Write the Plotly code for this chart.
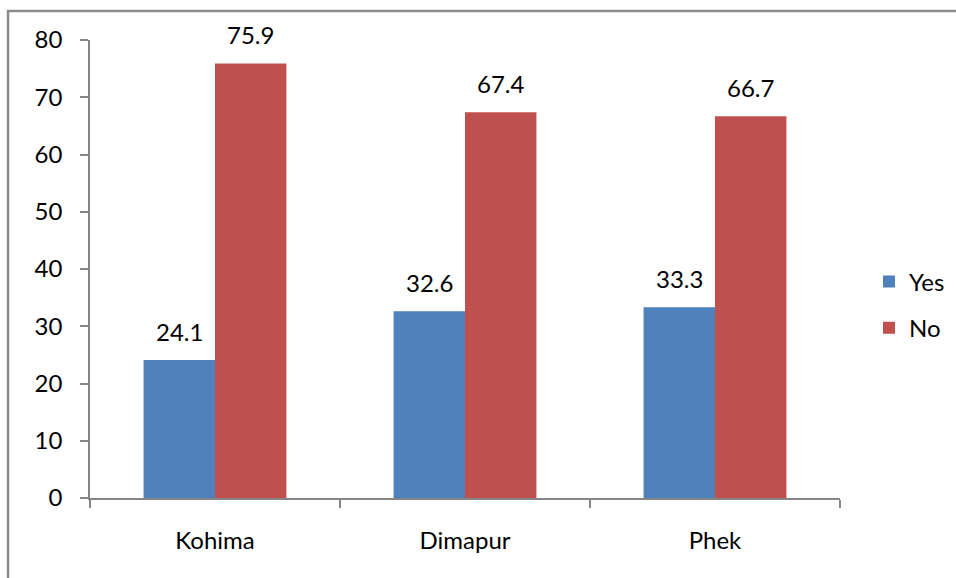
import plotly.graph_objects as go

districts = ["Kohima", "Dimapur", "Phek"]
yes_values = [24.1, 32.6, 33.3]
no_values = [75.9, 67.4, 66.7]
y_ticks = [0, 10, 20, 30, 40, 50, 60, 70, 80]

FONT = "Lato"
FONT_SIZE = 24
AXIS_GREY = "#868686"
BAR_SHIFT = 35.7  # half a bar width in pixels, to centre value labels on each bar

fig = go.Figure()
fig.add_trace(go.Bar(
    name="Yes", x=districts, y=yes_values,
    marker=dict(color="#4F81BD", line=dict(width=0)),
    legendgroup="yes",
))
fig.add_trace(go.Bar(
    name="No", x=districts, y=no_values,
    marker=dict(color="#C0504D", line=dict(width=0)),
    legendgroup="no",
))

# value labels above each bar
annotations = []
for values, shift in ((yes_values, -BAR_SHIFT), (no_values, BAR_SHIFT)):
    for d, v in zip(districts, values):
        annotations.append(dict(
            x=d, y=v, xref="x", yref="y", text=f"{v:.1f}",
            showarrow=False, xshift=shift, yshift=12, yanchor="bottom",
            font=dict(family=FONT, size=FONT_SIZE, color="#000000"),
        ))

fig.update_layout(
    width=956, height=578,
    margin=dict(l=90, r=116, t=40, b=80),
    paper_bgcolor="white", plot_bgcolor="white",
    barmode="group", bargap=1.5 / 3.5, bargroupgap=0,
    font=dict(family=FONT, size=FONT_SIZE, color="#000000"),
    showlegend=True,
    legend=dict(
        xref="container", yref="container",
        x=869 / 956, xanchor="left", y=1 - 305 / 578, yanchor="middle",
        font=dict(family=FONT, size=FONT_SIZE), tracegroupgap=12,
        traceorder="grouped", itemwidth=30,
        bgcolor="rgba(0,0,0,0)",
    ),
    xaxis=dict(
        showline=True, linecolor=AXIS_GREY, linewidth=1.5,
        ticks="outside", tickson="boundaries", ticklen=8,
        tickcolor=AXIS_GREY, tickwidth=1.5,
        showgrid=False, ticklabelstandoff=20,
        tickfont=dict(family=FONT, size=FONT_SIZE),
    ),
    yaxis=dict(
        range=[0, 80], tickvals=y_ticks,
        showline=True, linecolor=AXIS_GREY, linewidth=1.5,
        ticks="outside", ticklen=8, tickcolor=AXIS_GREY, tickwidth=1.5,
        showgrid=False, zeroline=False, ticklabelstandoff=13,
        tickfont=dict(family=FONT, size=FONT_SIZE),
    ),
    annotations=annotations,
    shapes=[dict(
        type="rect", xref="paper", yref="paper",
        x0=-0.1093, x1=1.3, y0=-0.3, y1=1.0633,
        line=dict(color="#8c8c8c", width=2.5), fillcolor="rgba(0,0,0,0)",
        layer="below",
    )],
)

fig.write_html("out.html")
